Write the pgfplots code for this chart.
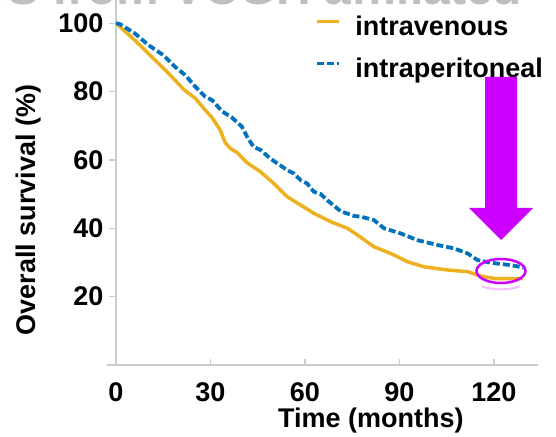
\documentclass[border=0pt]{standalone}
\usepackage{fontspec}
\setmainfont{Liberation Sans}
\usepackage{pgfplots}
\usepackage{pgfplotstable}
\pgfplotsset{compat=1.18}

\definecolor{ivyellow}{HTML}{EDB120}
\definecolor{ipblue}{HTML}{0072BD}
\definecolor{annot}{HTML}{CC00FF}
\definecolor{axgrey}{HTML}{CCCCCC}

% survival curves (months, %)
\pgfplotstableread{
t s
0 100
1.3 98.9
6.0 95.0
9.2 92.1
12.4 89.2
15.6 86.3
18.8 83.3
21.5 80.6
25.2 78.0
28.3 74.6
30.5 72.4
33.1 68.7
34.7 65.0
36.5 63.2
38.4 62.2
41.6 59.2
45.9 56.5
50.1 53.1
54.4 49.2
58.6 46.8
62.8 44.4
68.2 41.9
73.5 40.0
76.7 38.0
81.9 34.6
87.3 32.6
92.6 30.2
97.9 28.7
105.3 27.8
111.7 27.3
115.9 26.0
120.2 25.3
129.2 25.3
}\ivtab

\pgfplotstableread{
t s
0 100
1.3 99.7
6.0 97.0
10.3 93.6
15.1 90.6
18.8 87.2
22.0 84.8
25.2 81.4
28.3 78.5
30.5 77.5
33.7 74.2
36.8 72.4
40.0 69.7
41.6 66.8
43.7 63.8
45.9 62.9
49.0 60.4
51.2 59.0
54.4 57.0
56.5 56.0
58.6 54.1
60.7 53.1
62.8 50.7
65.0 50.0
67.1 48.2
71.3 45.0
75.6 43.6
77.7 43.4
81.9 42.4
85.1 40.0
90.4 38.5
95.8 36.5
102.1 35.1
107.4 34.1
111.7 32.6
114.8 30.7
119.1 29.9
125.5 29.2
129.5 28.5
}\iptab

\begin{document}
\begin{tikzpicture}
\useasboundingbox (-116pt,-71pt) rectangle (440pt,365pt);
\begin{scope}
\clip (-116pt,-71pt) rectangle (440pt,365pt);
% title cut off at the top of the crop
\node[anchor=base west, inner sep=0pt, text=black!25,
      font=\bfseries\fontsize{48}{52}\selectfont] at (-146pt,360pt) {OS from VCGH affiliated};
\begin{axis}[
  scale only axis, width=422pt, height=376pt,
  xmin=0, xmax=134, ymin=0, ymax=110,
  axis lines=left,
  axis line style={-, draw=axgrey, line width=1.2pt},
  tick align=inside, major tick length=6.5pt,
  tick style={axgrey, line width=1.2pt},
  y tick style={xshift=-6.5pt},
  xtick={0,30,60,90,120}, ytick={20,40,60,80,100},
  /pgf/number format/assume math mode=true,
  ticklabel style={font=\bfseries\fontsize{27}{30}\selectfont},
  yticklabel style={xshift=-9pt},
  xticklabel style={yshift=-14pt},
  xlabel={Time (months)},
  ylabel={Overall survival (\%)},
  label style={font=\bfseries\fontsize{27}{30}\selectfont},
  xlabel style={at={(axis cs:80.9,-16.3)}, anchor=center},
  ylabel style={at={(axis cs:-27.7,45.3)}, anchor=center},
  legend image code/.code={\draw[#1] (0pt,7pt) -- (22pt,7pt);},
  legend cell align=left,
  legend style={draw=none, fill=none, inner sep=0pt,
    at={(axis cs:63.0,102.0)}, anchor=north west,
    font=\bfseries\fontsize{27}{30}\selectfont,
    nodes={inner sep=0pt, text height=19pt, text depth=5pt},
    column sep=15pt, row sep=18pt},
]
\addplot[ivyellow, line width=3.5pt, line join=round] table[x=t, y=s] {\ivtab};
\addlegendentry{intravenous}
\addplot[ipblue, line width=3.8pt, dash pattern=on 7pt off 3pt] table[x=t, y=s] {\iptab};
\addlegendentry{intraperitoneal}
\end{axis}
\draw[axgrey, line width=1.2pt] (-9pt,0) -- (0,0);
% annotation: arrow and circled tail
\fill[annot] (369pt,288pt) -- (401pt,288pt) -- (401pt,157pt) -- (417pt,157pt)
  -- (385pt,125pt) -- (353pt,157pt) -- (369pt,157pt) -- cycle;
\draw[annot, line width=2.5pt] (385pt,94pt) ellipse [x radius=24.5pt, y radius=12pt];
\draw[annot!25, line width=2pt] (366pt,79pt) arc [start angle=200, end angle=340, x radius=20pt, y radius=5pt];
\end{scope}
\end{tikzpicture}
\end{document}
